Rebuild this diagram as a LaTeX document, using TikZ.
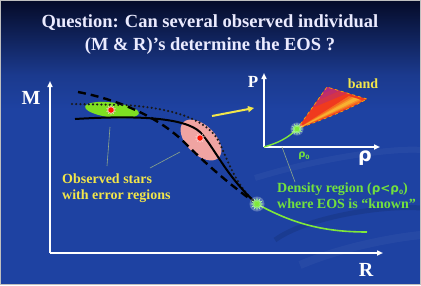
\documentclass[tikz,border=0pt]{standalone}
\usepackage{fontspec}
\setmainfont{Liberation Serif}
\newfontfamily\sansb{DejaVu Sans}
\usetikzlibrary{shapes.geometric,arrows.meta}
\definecolor{bgtop}{HTML}{050B28}
\definecolor{bgmid}{HTML}{1B3A8E}
\definecolor{bgmain}{HTML}{1E42A2}
\definecolor{cgreen}{HTML}{7FE83A}
\definecolor{lgreen}{HTML}{72E03E}
\definecolor{lyellow}{HTML}{F2E64A}
\definecolor{epink}{HTML}{F0A4A2}
\definecolor{egreen}{HTML}{7EE022}
\definecolor{ptr}{HTML}{8FA88A}
\definecolor{bandmag}{HTML}{B02A80}
\definecolor{bandred}{HTML}{F03A1E}
\definecolor{bandorg}{HTML}{F56A1E}
\definecolor{bandyel}{HTML}{F8B030}
\tikzset{
  axisline/.style={draw=white, line width=1.6pt, -{Triangle[length=6pt,width=5pt]}},
  titletext/.style={text=white!92!blue, font=\fontsize{18.5}{23}\selectfont\bfseries, align=center},
  ylabel/.style={text=lyellow, font=\fontsize{14}{16}\selectfont\bfseries, align=left, inner sep=0pt},
  glabel/.style={text=lgreen, font=\fontsize{14}{16}\selectfont\bfseries, align=left, inner sep=0pt},
  axlabel/.style={text=white, font=\fontsize{20}{20}\selectfont\bfseries},
  gstar/.style={star, star points=12, star point ratio=2.2, fill=cgreen, draw=green!30!white, line width=0.3pt, minimum size=12pt, inner sep=0pt},
  rhalo/.style={star, star points=10, star point ratio=1.8, fill=pink!80!white, minimum size=10pt, inner sep=0pt},
  rdot/.style={circle, fill=red!85!orange, minimum size=5.5pt, inner sep=0pt},
  pointer/.style={draw=ptr, line width=0.6pt},
  curvesolid/.style={draw=black, line width=2pt},
  curvedash/.style={draw=black, line width=2.4pt, dash pattern=on 8pt off 5pt},
  curvedot/.style={draw=black!90, line width=2.4pt, dash pattern=on 0pt off 4.2pt, line cap=round},
}
\begin{document}
\begin{tikzpicture}[x=1pt,y=-1pt]
\useasboundingbox (0,0) rectangle (421,285);
% background
\fill[bgmain] (0,0) rectangle (421,285);
\shade[top color=bgtop, bottom color=bgmid] (0,0) rectangle (421,75);
\shade[top color=bgmid, bottom color=bgmain] (0,75) rectangle (421,110);
% faint swooshes
\draw[white, opacity=0.04, line width=6pt] (255,178) .. controls (330,155) and (400,148) .. (421,150);
\draw[black, opacity=0.10, line width=5pt] (275,240) .. controls (305,218) and (380,205) .. (421,208);
\draw[white, opacity=0.04, line width=8pt] (300,265) .. controls (340,248) and (390,238) .. (421,235);
\draw[gray!50, line width=1pt] (0.5,0.5) rectangle (420.5,284.5);
% title
\node[titletext] (title) at (210,35) {Question: Can several observed individual\\(M \& R)'s determine the EOS ?};
% main axes
\coordinate (o) at (50,253);
\coordinate (mtop) at (50,81);
\coordinate (rend) at (383,253);
\draw[axisline] (o) -- (mtop);
\draw[axisline] (o) -- (rend);
\node[axlabel] (Mlab) at (31,98) {M};
\node[axlabel] (Rlab) at (366,270) {R};
% error regions
\node[ellipse, fill=egreen, minimum width=54pt, minimum height=15pt, rotate=-7, inner sep=0pt] (ell1) at (112,110) {};
\node[ellipse, fill=epink, minimum width=50pt, minimum height=29pt, rotate=-45, inner sep=0pt] (ell2) at (201,140) {};
% curves
\coordinate (starM) at (257,204);
\draw[curvedash] (78,92) .. controls (120,100) and (160,118) .. (185,143) .. controls (205,163) and (230,185) .. (starM);
\draw[curvedot] (72,104) -- (125,105) .. controls (170,108) and (205,118) .. (218,140) .. controls (228,160) and (235,185) .. (starM);
\draw[curvesolid] (75,119) .. controls (140,115) and (185,118) .. (200,132) .. controls (215,148) and (225,175) .. (starM);
\draw[cgreen, line width=1.6pt] (starM) .. controls (290,222) and (320,232) .. (367,232);
\node[circle, fill=white, opacity=0.25, minimum size=15pt] (glow1) at (starM) {};
\node[gstar] (s1) at (starM) {};
% observed stars
\node[rhalo] (h1) at (111,110) {};
\node[rdot] (d1) at (111,110) {};
\node[rhalo] (h2) at (200,138) {};
\node[rdot] (d2) at (200,138) {};
% pointers
\draw[pointer] (110,127) -- (107,166);
\draw[pointer] (180,152) -- (150,168);
\node[ylabel, anchor=west] (obs) at (62,188) {Observed stars\\with error regions};
% yellow arrow
\coordinate (ya) at (212,116);
\coordinate (yb) at (254,108);
\draw[lyellow, line width=2pt, -{Triangle[length=6pt,width=6pt]}] (ya) -- (yb);
% inset axes
\coordinate (io) at (264,147);
\coordinate (ptop) at (264,73);
\coordinate (rhoend) at (380,147);
% band (solid pieces, no clipping)
\coordinate (bs) at (297,129);
\coordinate (bt) at (327,87);
\coordinate (br) at (367,99);
\fill[bandred] (bs) -- (bt) -- (br) .. controls (340,114) and (315,122) .. (bs);
\fill[bandmag!45!bandred] (bt) -- (312,108) -- (348,93) -- cycle;
\fill[bandmag!75!bandred] (bt) -- (318,100) -- (339,91) -- cycle;
\fill[bandmag] (bt) -- (322,94) -- (333,89) -- cycle;
\fill[bandorg] (bs) -- (349,96) -- (363,101) -- cycle;
\fill[bandorg!50!bandyel] (bs) -- (352,97) -- (361,100) -- cycle;
\fill[bandyel] (bs) -- (354,97.8) -- (359,99.3) -- cycle;
\draw[orange!70!yellow, line width=0.7pt, dashed] (bs) -- (bt) -- (br) .. controls (340,114) and (315,122) .. (bs);
\draw[axisline] (io) -- (ptop);
\draw[axisline] (io) -- (rhoend);
\draw[cgreen, line width=1.4pt] (io) .. controls (278,143) and (288,138) .. (bs);
\node[circle, fill=white, opacity=0.25, minimum size=13pt] (glow2) at (bs) {};
\node[gstar, minimum size=11pt] (s2) at (bs) {};
\node[text=white, font=\fontsize{17}{17}\selectfont\bfseries] (Plab) at (253,82) {P};
\node[text=white, font=\sansb\fontsize{19}{19}\selectfont\bfseries] (rholab) at (365,158) {ρ};
\node[text=lgreen, font=\sansb\fontsize{10}{10}\selectfont\bfseries] (rho0) at (304,156) {ρ\raisebox{-0.3ex}{\fontsize{6}{6}\selectfont 0}};
\node[text=lyellow, font=\fontsize{14}{14}\selectfont\bfseries] (bandlab) at (363,84) {band};
% density label
\draw[pointer] (282,147) -- (295,182);
\node[glabel, anchor=west] (dens) at (277,196) {Density region ({\sansb\bfseries\fontsize{12}{12}\selectfont ρ<ρ\raisebox{-0.3ex}{\fontsize{6}{6}\selectfont 0}})\\where EOS is “known”};
\end{tikzpicture}
\end{document}
